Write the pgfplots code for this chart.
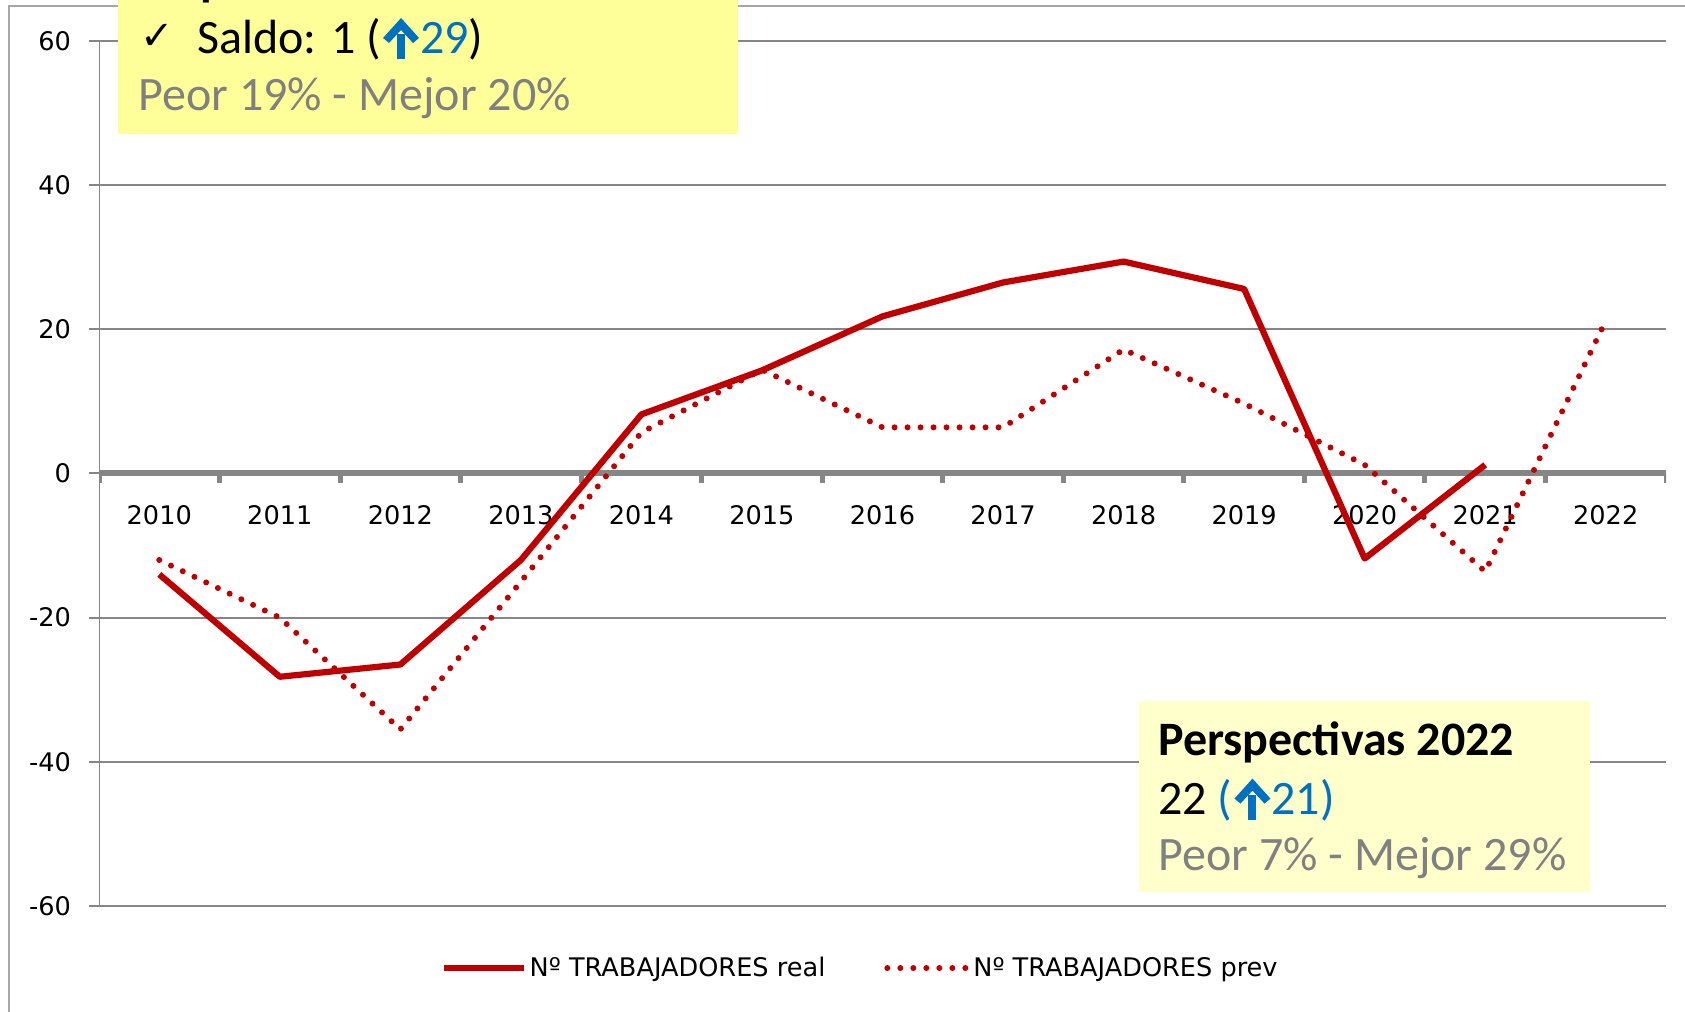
\documentclass[border=0pt]{standalone}
\usepackage{pgfplots}
\pgfplotsset{compat=1.18}
\usepackage{fontspec}
\setmainfont{DejaVu Sans}
\newfontfamily\calibri{Carlito}
\newfontfamily\dejavu{DejaVu Sans}
\definecolor{lred}{HTML}{C00000}
\definecolor{gridgray}{HTML}{868686}
\definecolor{framegray}{HTML}{A6A6A6}
\definecolor{ybox}{HTML}{FFFF99}
\definecolor{ybox2}{HTML}{FFFFCC}
\definecolor{arrowblue}{HTML}{0070C0}
\definecolor{txtgray}{HTML}{808080}
\newsavebox\arrbox

\begin{document}%
\sbox\arrbox{\tikz[baseline=0pt]{\fill[arrowblue] (-2pt,-2.5pt) rectangle (2pt,10pt);%
  \fill[arrowblue] (-9pt,8pt) -- (0pt,18pt) -- (9pt,8pt) -- (6pt,5.5pt) -- (0pt,12pt) -- (-6pt,5.5pt) -- cycle;}}%
\begin{tikzpicture}
\path[use as bounding box] (-49.5pt,-52.5pt) rectangle (793pt,453pt);
% chart frame
\draw[framegray, line width=1pt] (-45pt,-60pt) -- (-45pt,450pt) -- (800pt,450pt);
\begin{axis}[
  at={(0pt,0pt)}, anchor=south west,
  scale only axis, width=783.5pt, height=432.5pt,
  xmin=-0.5, xmax=12.5, ymin=-60, ymax=60,
  axis line style={draw=none},
  ytick={-60,-40,...,60},
  ymajorgrids, grid style={gridgray, line width=1pt},
  ytick pos=left, tick align=outside, major tick length=5pt,
  ytick style={gridgray, line width=1pt},
  xtick={0,...,12},
  xticklabels={2010,2011,2012,2013,2014,2015,2016,2017,2018,2019,2020,2021,2022},
  xtick style={draw=none},
  xticklabel style={anchor=base, yshift=195.6pt},
  yticklabel style={xshift=-5.5pt},
  ticklabel style={font=\dejavu\fontsize{12.8}{14}\selectfont},
  /pgf/number format/assume math mode=true,
  legend columns=2,
  legend style={at={(0.486,-0.0717)}, anchor=center, draw=none, fill=none,
    font=\dejavu\fontsize{12.8}{14}\selectfont,
    nodes={inner sep=1.5pt},
    /tikz/every even column/.append style={column sep=28pt}},
  legend image code/.code={\draw[#1] (0pt,0pt) -- (40pt,0pt);},
  legend cell align=left,
]
\draw[gridgray, line width=1pt] (axis cs:-0.5,-60) -- (axis cs:-0.5,60);
\draw[gridgray, line width=3pt] (axis cs:-0.5,0) -- (axis cs:12.5,0);
\pgfplotsinvokeforeach{-0.5,0.5,1.5,2.5,3.5,4.5,5.5,6.5,7.5,8.5,9.5,10.5,11.5,12.5}{
  \draw[gridgray, line width=2.5pt] (axis cs:#1,0) -- ++(0pt,-5pt);
}
\addplot[lred, line width=3.1pt, line join=round] coordinates {
  (0,-14) (1,-28.2) (2,-26.5) (3,-12) (4,8.2) (5,14.3) (6,21.8)
  (7,26.5) (8,29.4) (9,25.6) (10,-11.8) (11,1.2)
};
\addlegendentry{Nº TRABAJADORES real}
\addplot[lred, line width=3pt, line cap=round, dash pattern=on 0pt off 6.5pt] coordinates {
  (0,-12) (1,-20) (2,-35.5) (3,-15) (4,5.7) (5,14.4) (6,6.4)
  (7,6.4) (8,17.2) (9,9.7) (10,1.2) (11,-13.6) (12,21.2)
};
\addlegendentry{Nº TRABAJADORES prev}
\end{axis}
% top-left box
\fill[ybox] (9.5pt,386pt) rectangle (319.5pt,462pt);
\node[anchor=base west, inner sep=0pt, font=\calibri\bfseries\fontsize{24}{28}\selectfont] at (19.5pt,455pt) {Empleo 2021};
\node[anchor=base west, inner sep=0pt, font=\dejavu\fontsize{20}{24}\selectfont] at (20.5pt,428pt) {✓};
\node[anchor=base west, inner sep=0pt, font=\calibri\fontsize{24}{28}\selectfont] at (49pt,426pt)
  {Saldo: 1 (\kern1pt\usebox\arrbox\kern0.5pt\textcolor{arrowblue}{29})};
\node[anchor=base west, inner sep=0pt, font=\calibri\fontsize{24}{28}\selectfont, text=txtgray] at (19.5pt,397.5pt)
  {Peor 19\% - Mejor 20\%};
% bottom-right box
\fill[ybox2] (520pt,7pt) rectangle (745.5pt,102.5pt);
\node[anchor=base west, inner sep=0pt, font=\calibri\bfseries\fontsize{24}{28}\selectfont] at (529.5pt,75.3pt)
  {Perspectivas 2022};
\node[anchor=base west, inner sep=0pt, font=\calibri\fontsize{24}{28}\selectfont] at (529.5pt,45.7pt)
  {22 \textcolor{arrowblue}{(\kern1pt\usebox\arrbox\kern0.5pt 21)}};
\node[anchor=base west, inner sep=0pt, font=\calibri\fontsize{24}{28}\selectfont, text=txtgray] at (529.5pt,18pt)
  {Peor 7\% - Mejor 29\%};
\end{tikzpicture}%
\end{document}
